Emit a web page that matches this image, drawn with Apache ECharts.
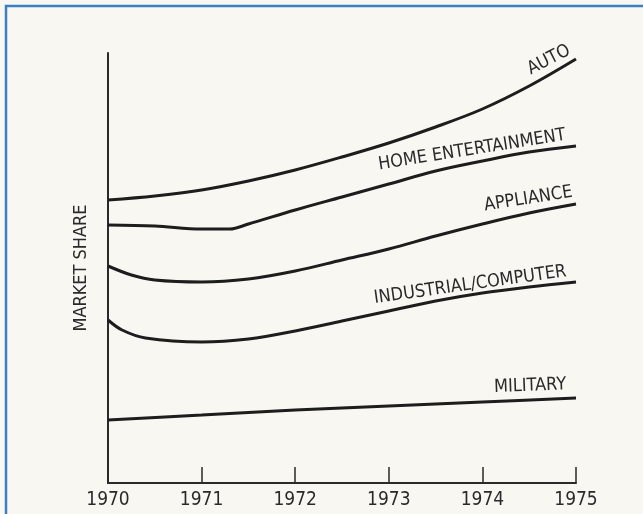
<!DOCTYPE html>
<html>
<head>
<meta charset="utf-8">
<script src="https://cdn.jsdelivr.net/npm/echarts@6/dist/echarts.min.js"></script>
<style>
  html, body { margin: 0; padding: 0; background: #f8f7f2; }
  #chart { width: 643px; height: 514px; }
</style>
</head>
<body>
<div id="chart"></div>
<script>
// Relative market share by segment, 1970-1975 (unscaled index)
const years = [1970, 1971, 1972, 1973, 1974, 1975];

const autoX = [1970, 1970.5, 1971, 1971.5, 1972, 1972.5, 1973, 1973.5, 1974, 1974.5, 1975];
const autoY = [283, 287, 293, 302, 313, 326, 340, 356, 374, 397, 424];

const homeX = [1970, 1970.5, 1971, 1971.3, 1971.5, 1972, 1972.5, 1973, 1973.5, 1974, 1974.5, 1975];
const homeY = [258, 257, 254, 254, 259, 273, 286, 299, 312, 322, 331, 337];

const applX = [1970, 1970.25, 1970.5, 1971, 1971.5, 1972, 1972.5, 1973, 1973.5, 1974, 1974.5, 1975];
const applY = [217, 208, 203, 201, 204, 212, 223, 234, 247, 259, 270, 279];

const indX = [1970, 1970.15, 1970.4, 1971, 1971.5, 1972, 1972.5, 1973, 1973.5, 1974, 1974.5, 1975];
const indY = [163, 153, 145, 141, 144, 152, 162, 172, 182, 190, 196, 201];

const milX = [1970, 1971, 1972, 1973, 1974, 1975];
const milY = [63, 68, 73, 77, 81, 85];

// Segment names and where each name sits along its curve
const names = ['AUTO', 'HOME ENTERTAINMENT', 'APPLIANCE', 'INDUSTRIAL/COMPUTER', 'MILITARY'];
const labelX = [1974.71, 1973.89, 1974.49, 1973.87, 1974.51];
const labelY = [423, 333, 284, 198, 97];
const labelAngle = [27, 9, 9, 8, 2];

const ink = '#1d1d1d';
const font = '"Liberation Sans Narrow", "DejaVu Sans Condensed", "Liberation Sans", sans-serif';

function pairs(xs, ys) { return xs.map((x, i) => [x, ys[i]]); }

const seriesXY = [[autoX, autoY], [homeX, homeY], [applX, applY], [indX, indY], [milX, milY]];

const series = seriesXY.map(([xs, ys], i) => ({
  name: names[i],
  type: 'line',
  data: pairs(xs, ys),
  smooth: 0.35,
  showSymbol: false,
  lineStyle: { color: ink, width: 3 },
  silent: true,
  markPoint: {
    symbol: 'circle',
    symbolSize: 0,
    silent: true,
    data: [{ coord: [labelX[i], labelY[i]] }],
    label: {
      show: true,
      position: 'inside',
      formatter: names[i],
      rotate: labelAngle[i],
      color: '#2a2a2a',
      fontFamily: font,
      fontSize: 18
    }
  }
}));

const chart = echarts.init(document.getElementById('chart'), null, { renderer: 'canvas' });
chart.setOption({
  backgroundColor: '#f8f7f2',
  animation: false,
  grid: { left: 108, right: 67, top: 53, bottom: 31 },
  xAxis: {
    type: 'value',
    min: years[0],
    max: years[years.length - 1],
    interval: 1,
    splitLine: { show: false },
    axisLine: { lineStyle: { color: '#2a2a2a', width: 2 } },
    axisTick: { inside: true, length: 16, lineStyle: { color: '#2a2a2a', width: 1.5 } },
    axisLabel: { color: '#2a2a2a', fontFamily: font, fontSize: 19, margin: 8, formatter: v => String(v) }
  },
  yAxis: {
    type: 'value',
    min: 0,
    max: 430,
    name: 'MARKET SHARE',
    nameLocation: 'middle',
    nameRotate: 90,
    nameGap: 18,
    nameTextStyle: { color: '#2a2a2a', fontFamily: font, fontSize: 18 },
    splitLine: { show: false },
    axisLine: { show: true, lineStyle: { color: '#2a2a2a', width: 2 } },
    axisTick: { show: false },
    axisLabel: { show: false }
  },
  graphic: [{
    type: 'rect',
    shape: { x: 6, y: 6, width: 700, height: 600 },
    style: { fill: 'none', stroke: '#3b80c3', lineWidth: 2.5 },
    silent: true
  }],
  series: series
});
</script>
</body>
</html>
